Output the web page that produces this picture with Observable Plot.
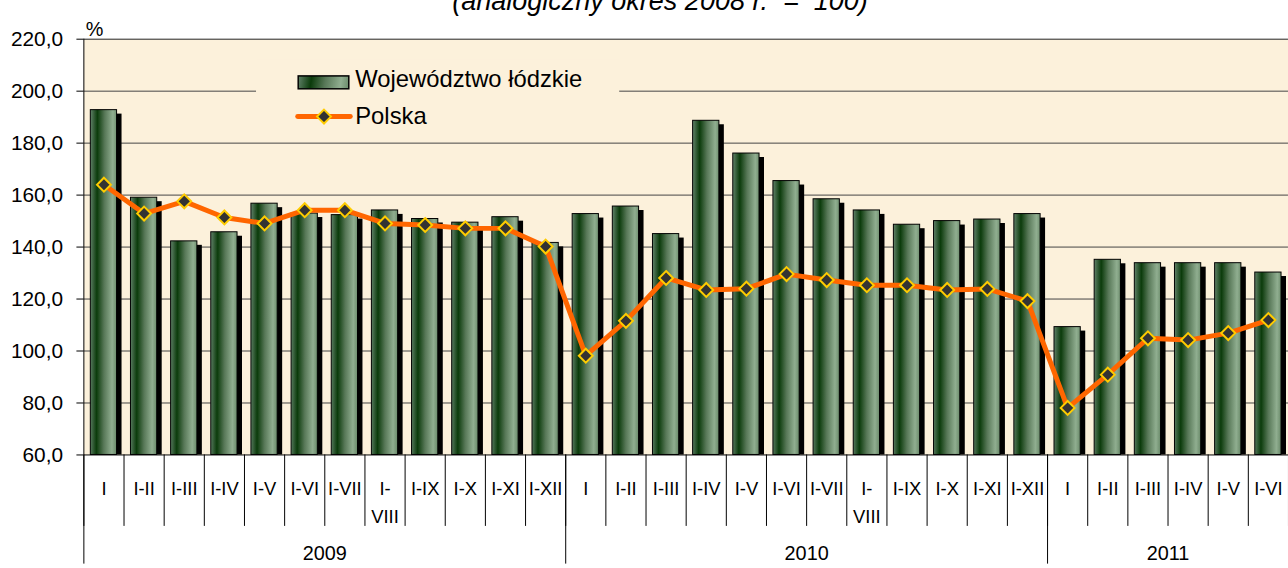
<!DOCTYPE html>
<html><head><meta charset="utf-8">
<script src="https://cdn.jsdelivr.net/npm/d3@7"></script>
<script src="https://cdn.jsdelivr.net/npm/@observablehq/plot@0.6"></script>
<style>
html,body{margin:0;padding:0;background:#fff;overflow:hidden;width:1288px;height:568px;}
#wrap{position:relative;width:1288px;height:568px;overflow:hidden;}
#chart{position:absolute;left:0;top:0;}
#title{position:absolute;top:-12px;left:0;width:1320px;text-align:center;font:italic 27px "Liberation Sans",Arial,sans-serif;line-height:27px;white-space:pre;color:#000;}
</style></head><body><div id="wrap"><div id="chart"></div><div id="title">(analogiczny okres 2008 r.  =  100)</div></div>
<script>
// ---- data ----
const categories = [
  "I","I-II","I-III","I-IV","I-V","I-VI","I-VII","I-VIII","I-IX","I-X","I-XI","I-XII",
  "I","I-II","I-III","I-IV","I-V","I-VI","I-VII","I-VIII","I-IX","I-X","I-XI","I-XII",
  "I","I-II","I-III","I-IV","I-V","I-VI"
];
const years = [
  "2009","2009","2009","2009","2009","2009","2009","2009","2009","2009","2009","2009",
  "2010","2010","2010","2010","2010","2010","2010","2010","2010","2010","2010","2010",
  "2011","2011","2011","2011","2011","2011"
];
const lodzkie = [
  192.7,159.0,142.2,145.7,156.7,152.9,152.3,154.1,150.8,149.4,151.5,141.6,
  152.7,155.6,145.0,188.6,176.0,165.4,158.4,154.1,148.6,150.0,150.6,152.7,
  109.2,135.1,133.8,133.8,133.8,130.2
];
const polska = [
  164.0,152.9,157.6,151.4,149.1,154.2,154.2,149.1,148.5,147.2,147.2,140.2,
  98.2,111.6,128.1,123.5,124.0,129.6,127.3,125.3,125.3,123.5,123.9,119.2,
  78.1,90.9,104.9,104.2,106.9,111.9
];
const yTicks = [60, 80, 100, 120, 140, 160, 180, 200, 220];
const seriesNames = ["Województwo łódzkie", "Polska"];

// ---- derived table ----
const data = categories.map((c, i) => ({i, period: c, year: years[i], lodzkie: lodzkie[i], polska: polska[i]}));
const groups = d3.groups(data, d => d.year).map(([year, rows]) => ({year, start: rows[0].i, end: rows[rows.length - 1].i + 1}));

const cream = "#fcf1db";
const font = '"Liberation Sans", Arial, sans-serif';
const orange = "#ff6600";

function defs() {
  const d = d3.create("svg:defs");
  const g = d.append("linearGradient").attr("id", "barGrad")
    .attr("x1", 0).attr("y1", 0).attr("x2", 1).attr("y2", 0.04);
  [[0, "#62826a"], [0.27, "#0b3b0b"], [0.55, "#587858"], [0.86, "#90ae90"], [1, "#719171"]].forEach(([o, c]) =>
    g.append("stop").attr("offset", o).attr("stop-color", c));
  return d.node();
}

function legend() {
  const g = d3.create("svg:g").attr("font-family", font).attr("text-anchor", "start");
  g.append("rect").attr("x", 258).attr("y", 60).attr("width", 366).attr("height", 76).attr("fill", cream);
  g.append("rect").attr("x", 300.5).attr("y", 76.5).attr("width", 51).attr("height", 13)
    .attr("fill", "url(#barGrad)").attr("stroke", "#000").attr("stroke-width", 1.5);
  g.append("text").attr("x", 358).attr("y", 88).attr("font-size", 24).attr("fill", "#000").text(seriesNames[0]);
  g.append("line").attr("x1", 300).attr("x2", 353).attr("y1", 117.5).attr("y2", 117.5)
    .attr("stroke", orange).attr("stroke-width", 5).attr("stroke-linecap", "round");
  g.append("path").attr("d", d3.symbol(d3.symbolDiamond2, Math.PI * 6.3 * 6.3)())
    .attr("transform", "translate(326.5,117.5)").attr("fill", "#333").attr("stroke", "#ffcc00").attr("stroke-width", 2);
  g.append("text").attr("x", 358).attr("y", 125).attr("font-size", 24).attr("fill", "#000").text(seriesNames[1]);
  return g.node();
}

const plot = Plot.plot({
  width: 1298, height: 568,
  marginTop: 39, marginBottom: 110, marginLeft: 84, marginRight: 0,
  style: {fontFamily: font, background: "transparent", color: "#000", overflow: "visible"},
  x: {type: "linear", domain: [0, categories.length], axis: null, label: null},
  y: {domain: [60, 220], axis: null, label: null},
  marks: [
    defs,
    Plot.frame({fill: cream, stroke: null}),
    Plot.gridY({ticks: yTicks.filter(t => t > 60 && t < 220), stroke: "#444", strokeOpacity: 1}),
    Plot.ruleY([220], {stroke: "#222"}),
    legend,
    Plot.rect(data, {x1: "i", x2: d => d.i + 1, y1: 60, y2: "lodzkie", insetLeft: 7, insetRight: 7,
      fill: "#000", dx: 5, dy: 4, clip: true}),
    Plot.rect(data, {x1: "i", x2: d => d.i + 1, y1: 60, y2: "lodzkie", insetLeft: 7, insetRight: 7,
      fill: "url(#barGrad)", stroke: "#000", strokeWidth: 1}),
    Plot.line(data, {x: d => d.i + 0.5, y: "polska", stroke: orange, strokeWidth: 5}),
    Plot.dot(data, {x: d => d.i + 0.5, y: "polska", symbol: "diamond2", r: 6.3,
      fill: "#333", stroke: "#ffcc00", strokeWidth: 2}),
    Plot.ruleX([0], {stroke: "#000"}),
    Plot.ruleY([60], {stroke: "#000"}),
    Plot.axisY({ticks: yTicks, tickSize: 7, tickPadding: 14, fontSize: 21,
      tickFormat: d => d.toFixed(1).replace(".", ","), label: null, stroke: "#000"}),
    Plot.axisX({ticks: d3.range(0, categories.length + 1), tickSize: 72, tickFormat: () => "", label: null, stroke: "#000"}),
    Plot.axisX({ticks: groups.map(g => g.start), tickSize: 110, tickFormat: () => "", label: null, stroke: "#000"}),
    Plot.axisX({ticks: data.map(d => d.i + 0.5), tickSize: 0, tickPadding: 20, fontSize: 18.5, lineHeight: 1.55,
      tickFormat: v => categories[Math.floor(v)].replace("I-VIII", "I-\nVIII"), label: null}),
    Plot.axisX({ticks: groups.map(g => (g.start + g.end) / 2), tickSize: 0, tickPadding: 92, fontSize: 20,
      tickFormat: v => groups.find(g => (g.start + g.end) / 2 === v).year, label: null}),
    Plot.text(["%"], {frameAnchor: "top-left", dx: 2, dy: -17, fontSize: 20, textAnchor: "start", fill: "#000"})
  ]
});
document.getElementById("chart").appendChild(plot);
</script></body></html>
